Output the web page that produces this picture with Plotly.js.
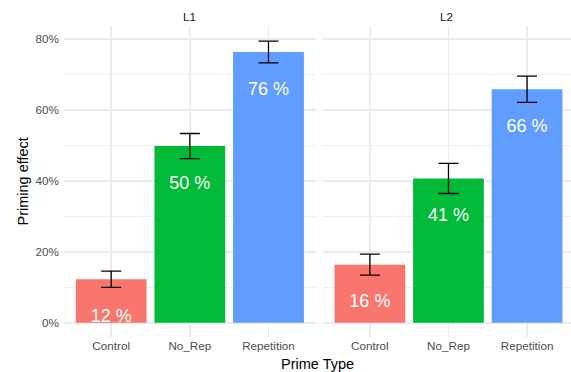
<!DOCTYPE html>
<html>
<head>
<meta charset="utf-8">
<script src="https://cdn.plot.ly/plotly-3.0.1.min.js"></script>
<style>html,body{margin:0;padding:0;overflow:hidden;background:#fff;}</style>
</head>
<body>
<div id="chart" style="width:571px;height:372px;"></div>
<script>
const categories = ["Control", "No_Rep", "Repetition"];
const panels = ["L1", "L2"];
const valuesL1 = [12.3, 49.8, 76.3];
const errorsL1 = [2.3, 3.55, 3.05];
const valuesL2 = [16.4, 40.7, 65.8];
const errorsL2 = [2.95, 4.25, 3.7];
const colors = ["#F8766D", "#00BA38", "#619CFF"];
const yTicks = [0, 20, 40, 60, 80];
const labelOffset = 10.7;

function barTrace(vals, errs, xa, ya) {
  return {
    type: "bar", x: categories, y: vals, xaxis: xa, yaxis: ya,
    width: 0.9, marker: {color: colors, line: {width: 0}},
    error_y: {type: "data", array: errs, visible: true, color: "#000000", thickness: 1.3, width: 10},
    hoverinfo: "skip", showlegend: false
  };
}
function labelTrace(vals, xa, ya) {
  return {
    type: "scatter", mode: "text", x: categories, y: vals.map(v => v - labelOffset),
    text: vals.map(v => Math.round(v) + " %"), xaxis: xa, yaxis: ya,
    textposition: "middle center",
    textfont: {family: "Liberation Sans, Arial, sans-serif", size: 18, color: "#FFFFFF"},
    hoverinfo: "skip", showlegend: false
  };
}

const data = [
  barTrace(valuesL1, errorsL1, "x", "y"),
  labelTrace(valuesL1, "x", "y"),
  barTrace(valuesL2, errorsL2, "x2", "y2"),
  labelTrace(valuesL2, "x2", "y2")
];

const tickFont = {family: "Liberation Sans, Arial, sans-serif", size: 11.7, color: "#4D4D4D"};
const xCommon = {
  type: "category", showgrid: true, gridcolor: "#EBEBEB", gridwidth: 1.6,
  zeroline: false, showline: false, ticks: "", tickfont: tickFont, fixedrange: true
};
const yCommon = {
  range: [-3.98, 83.63], tickvals: yTicks, ticktext: yTicks.map(t => t + "%"),
  showgrid: true, gridcolor: "#EBEBEB", gridwidth: 1.6, zeroline: false, showline: false,
  ticks: "", tickfont: tickFont,
  minor: {dtick: 10, tick0: 10, showgrid: true, gridcolor: "#EBEBEB", gridwidth: 0.8},
  fixedrange: true
};

const layout = {
  width: 571, height: 372,
  margin: {l: 64, r: 0, t: 26, b: 35},
  paper_bgcolor: "#FFFFFF", plot_bgcolor: "#FFFFFF",
  font: {family: "Liberation Sans, Arial, sans-serif"},
  xaxis: Object.assign({}, xCommon, {domain: [0, 0.4964], range: [-0.6, 2.6], anchor: "y"}),
  xaxis2: Object.assign({}, xCommon, {domain: [0.5103, 1], range: [-0.6, 2.559], anchor: "y2"}),
  yaxis: Object.assign({}, yCommon, {anchor: "x", ticklabelstandoff: 4}),
  yaxis2: Object.assign({}, yCommon, {anchor: "x2", showticklabels: false}),
  annotations: [
    {text: panels[0], xref: "x domain", yref: "paper", x: 0.5, y: 1, yshift: 10, showarrow: false,
     font: {size: 11.7, color: "#1A1A1A"}, xanchor: "center", yanchor: "middle"},
    {text: panels[1], xref: "x2 domain", yref: "paper", x: 0.5, y: 1, yshift: 10, showarrow: false,
     font: {size: 11.7, color: "#1A1A1A"}, xanchor: "center", yanchor: "middle"},
    {text: "Priming effect", xref: "paper", yref: "paper", x: 0, xshift: -42, y: 0.5,
     textangle: -90, showarrow: false, font: {size: 14.5, color: "#000000"},
     xanchor: "center", yanchor: "middle"},
    {text: "Prime Type", xref: "paper", yref: "paper", x: 0.5, y: 0, yshift: -27, showarrow: false,
     font: {size: 14.5, color: "#000000"}, xanchor: "center", yanchor: "middle"}
  ]
};

Plotly.newPlot("chart", data, layout, {displayModeBar: false, staticPlot: true});
</script>
</body>
</html>
